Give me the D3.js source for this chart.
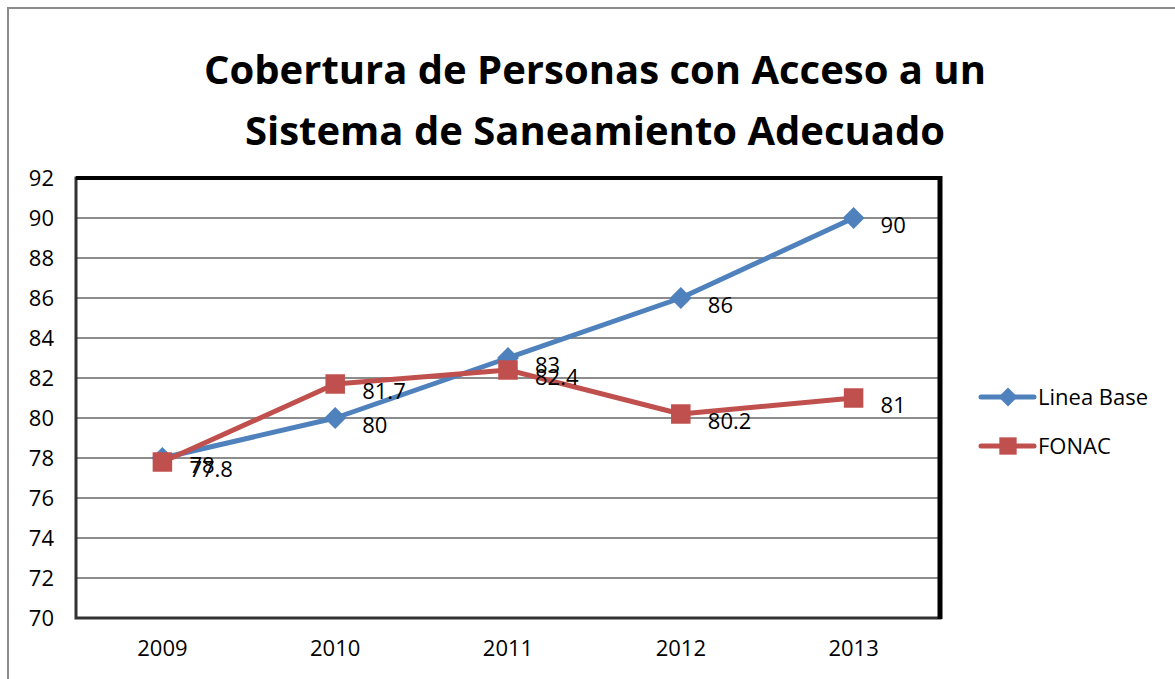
<!DOCTYPE html>
<html>
<head>
<meta charset="utf-8">
<script src="https://cdn.jsdelivr.net/npm/d3@7"></script>
<style>
	body { margin: 0; background: #fff; }
	text { font-family: "Open Sans", "Liberation Sans", sans-serif; }
</style>
</head>
<body>
<div id="chart"></div>
<script>
var years = ["2009", "2010", "2011", "2012", "2013"];
var lineaBase = [78, 80, 83, 86, 90];
var fonac = [77.8, 81.7, 82.4, 80.2, 81];
var yTicks = [70, 72, 74, 76, 78, 80, 82, 84, 86, 88, 90, 92];
var titleLines = ["Cobertura de Personas con Acceso a un", "Sistema de Saneamiento Adecuado"];

var W = 1175, H = 679;
var plotL = 76, plotT = 178, plotR = 940, plotB = 618;
var blue = "#4f81bd", red = "#c0504d";

var svg = d3.select("#chart")
	.append("svg")
	.attr("width", W)
	.attr("height", H)
	.attr("display", "block");

//	outer chart frame
svg.append("path")
	.attr("d", "M8," + H + "V8H" + W)
	.attr("fill", "none")
	.attr("stroke", "#8c8c8c")
	.attr("stroke-width", 2);

//	title
svg.append("g").selectAll("text")
	.data(titleLines)
	.enter().append("text")
	.attr("x", 595)
	.attr("y", function(d, i) { return 84 + i * 61; })
	.attr("text-anchor", "middle")
	.attr("font-size", 40)
	.attr("font-weight", "bold")
	.attr("fill", "#000")
	.text(function(d) { return d; });

var x = d3.scaleBand().domain(years).range([plotL, plotR]);
var y = d3.scaleLinear().domain([70, 92]).range([plotB, plotT]);

//	gridlines
svg.append("g").selectAll("line")
	.data(yTicks.slice(1, -1))
	.enter().append("line")
	.attr("x1", plotL)
	.attr("x2", plotR)
	.attr("y1", function(d) { return y(d); })
	.attr("y2", function(d) { return y(d); })
	.attr("stroke", "#8c8c8c")
	.attr("stroke-width", 2);

//	plot area border
svg.append("rect")
	.attr("x", plotL)
	.attr("y", plotT)
	.attr("width", plotR - plotL)
	.attr("height", plotB - plotT)
	.attr("fill", "none")
	.attr("stroke", "#333")
	.attr("stroke-width", 3);
svg.append("line")
	.attr("x1", plotR).attr("x2", plotR)
	.attr("y1", plotT - 2).attr("y2", plotB + 1)
	.attr("stroke", "#000")
	.attr("stroke-width", 5);
svg.append("line")
	.attr("x1", plotL).attr("x2", plotR)
	.attr("y1", plotT).attr("y2", plotT)
	.attr("stroke", "#000")
	.attr("stroke-width", 4);

//	axes
var yAxis = svg.append("g")
	.attr("transform", "translate(" + (plotL - 22) + ",0)")
	.call(d3.axisLeft(y).tickValues(yTicks).tickSize(0).tickPadding(0));
yAxis.select(".domain").remove();
yAxis.selectAll("text")
	.attr("font-size", 22)
	.attr("font-family", "Open Sans, sans-serif")
	.attr("fill", "#000")
	.attr("dy", "0.35em");

var xAxis = svg.append("g")
	.attr("transform", "translate(0," + plotB + ")")
	.call(d3.axisBottom(x).tickSize(0).tickPadding(30));
xAxis.select(".domain").remove();
xAxis.selectAll("text")
	.attr("font-size", 22)
	.attr("font-family", "Open Sans, sans-serif")
	.attr("fill", "#000")
	.attr("dy", "0.35em");

var cx = function(d, i) { return x(years[i]) + x.bandwidth() / 2; };

var line = d3.line()
	.x(cx)
	.y(function(d) { return y(d); });

//	diamond = square turned 45deg
var series = [
	{ name: "Linea Base", values: lineaBase, color: blue, size: 240, rot: 45 },
	{ name: "FONAC", values: fonac, color: red, size: 380, rot: 0 }
];

series.forEach(function(s) {
	svg.append("path")
		.datum(s.values)
		.attr("d", line)
		.attr("fill", "none")
		.attr("stroke", s.color)
		.attr("stroke-width", 5)
		.attr("stroke-linejoin", "round");

	svg.append("g").selectAll("path")
		.data(s.values)
		.enter().append("path")
		.attr("transform", function(d, i) { return "translate(" + cx(d, i) + "," + y(d) + ") rotate(" + s.rot + ")"; })
		.attr("d", d3.symbol().type(d3.symbolSquare).size(s.size))
		.attr("fill", s.color);
});

//	data labels
series.forEach(function(s) {
	svg.append("g").selectAll("text")
		.data(s.values)
		.enter().append("text")
		.attr("x", function(d, i) { return cx(d, i) + 27; })
		.attr("y", function(d) { return y(d) + 15; })
		.attr("font-size", 22)
		.attr("fill", "#000")
		.text(function(d) { return d; });
});

//	legend
var legend = svg.append("g").selectAll("g")
	.data(series)
	.enter().append("g")
	.attr("transform", function(d, i) { return "translate(981," + (397 + i * 49) + ")"; });

legend.append("line")
	.attr("x1", 0).attr("x2", 53)
	.attr("stroke", function(d) { return d.color; })
	.attr("stroke-width", 5)
	.attr("stroke-linecap", "round");
legend.append("path")
	.attr("transform", function(d) { return "translate(27,0) rotate(" + d.rot + ")"; })
	.attr("d", function(d) { return d3.symbol().type(d3.symbolSquare).size(d.rot ? 180 : 300)(); })
	.attr("fill", function(d) { return d.color; });
legend.append("text")
	.attr("x", 57)
	.attr("y", 8)
	.attr("font-size", 22)
	.attr("fill", "#000")
	.text(function(d) { return d.name; });
</script>
</body>
</html>
